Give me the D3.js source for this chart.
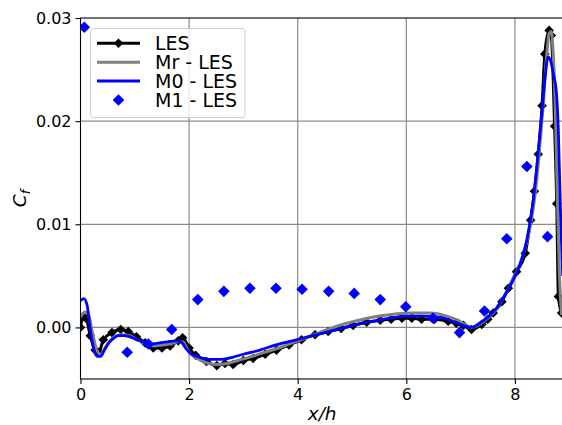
<!DOCTYPE html>
<html><head><meta charset="utf-8">
<script src="https://cdn.jsdelivr.net/npm/d3@7"></script>
<style>body{margin:0;background:#fff}svg{display:block}text{font-family:"DejaVu Sans",sans-serif}</style>
</head><body>
<svg id="c" width="562" height="425"></svg>
<script>
// ---- data ----
const lesX = [0,0.04,0.1,0.18,0.27,0.34,0.42,0.58,0.74,0.88,1.03,1.19,1.34,1.5,1.65,1.8,1.88,2.0,2.12,2.32,2.51,2.66,2.81,3.0,3.18,3.4,3.61,3.84,4.07,4.32,4.56,4.8,5.02,5.27,5.52,5.72,5.92,6.1,6.28,6.52,6.77,6.92,7.05,7.2,7.39,7.5,7.6,7.76,7.88,8.03,8.19,8.29,8.36,8.43,8.5,8.55,8.63,8.67,8.73,8.77,8.8,8.86];
const lesY = [0.0000,0.0010,0.0009,-0.0008,-0.0022,-0.0024,-0.0012,-0.0005,-0.0002,-0.0004,-0.0009,-0.0015,-0.0020,-0.0020,-0.0018,-0.0013,-0.0010,-0.0020,-0.0027,-0.0033,-0.0037,-0.0035,-0.0036,-0.0032,-0.0030,-0.0026,-0.0022,-0.0017,-0.0012,-0.0007,-0.0004,-0.0001,0.0002,0.0005,0.0007,0.0008,0.0009,0.0009,0.0008,0.0008,0.0006,0.0004,0.0002,-0.0002,0.0003,0.0008,0.0014,0.0025,0.0038,0.0054,0.0072,0.0104,0.0132,0.0168,0.0215,0.0265,0.0288,0.0283,0.0195,0.0120,0.0030,0.0014];

const mrX = [0,0.08,0.15,0.22,0.3,0.37,0.45,0.6,0.75,0.9,1.05,1.2,1.35,1.5,1.65,1.8,1.88,2.0,2.15,2.3,2.5,2.7,2.9,3.1,3.4,3.7,4.0,4.3,4.6,4.9,5.2,5.5,5.8,6.1,6.4,6.6,6.8,6.95,7.1,7.2,7.35,7.5,7.65,7.8,7.95,8.1,8.25,8.35,8.45,8.52,8.58,8.63,8.67,8.7,8.74,8.78,8.82,8.86];
const mrY = [0.0010,0.0015,0.0012,-0.0005,-0.0022,-0.0026,-0.0020,-0.0010,-0.0007,-0.0008,-0.0012,-0.0016,-0.0018,-0.0017,-0.0016,-0.0014,-0.0014,-0.0024,-0.0030,-0.0034,-0.0036,-0.0035,-0.0032,-0.0029,-0.0024,-0.0019,-0.0013,-0.0007,-0.0001,0.0004,0.0008,0.0011,0.0013,0.0014,0.0014,0.0013,0.0010,0.0007,0.0002,0.0000,0.0003,0.0009,0.0017,0.0030,0.0045,0.0063,0.0090,0.0120,0.0170,0.0215,0.0260,0.0285,0.0287,0.0270,0.0220,0.0130,0.0050,0.0012];

const m0X = [0,0.06,0.12,0.18,0.25,0.31,0.37,0.44,0.52,0.6,0.7,0.8,0.9,1.0,1.1,1.2,1.3,1.45,1.6,1.75,1.85,1.95,2.05,2.2,2.4,2.6,2.8,3.0,3.3,3.6,3.9,4.2,4.5,4.8,5.1,5.4,5.7,6.0,6.3,6.6,6.8,6.95,7.1,7.2,7.35,7.5,7.65,7.8,7.95,8.1,8.22,8.33,8.42,8.5,8.56,8.61,8.66,8.71,8.76,8.8,8.84,8.88];
const m0Y = [0.0026,0.0028,0.0022,-0.0002,-0.0022,-0.0028,-0.0028,-0.0022,-0.0015,-0.0011,-0.0008,-0.0008,-0.0009,-0.0011,-0.0013,-0.0015,-0.0016,-0.0015,-0.0014,-0.0013,-0.0014,-0.0021,-0.0026,-0.0029,-0.0031,-0.0031,-0.0029,-0.0026,-0.0022,-0.0017,-0.0013,-0.0009,-0.0005,-0.0001,0.0003,0.0006,0.0009,0.0011,0.0011,0.0010,0.0007,0.0004,0.0001,0.0000,0.0004,0.0010,0.0018,0.0030,0.0044,0.0062,0.0085,0.0120,0.0165,0.0210,0.0245,0.0262,0.0258,0.0245,0.0230,0.0190,0.0110,0.0050];

const m1X = [0.07,0.86,1.25,1.68,2.16,2.64,3.12,3.6,4.08,4.57,5.04,5.52,5.99,6.49,6.98,7.44,7.85,8.22,8.6];
const m1Y = [0.0291,-0.0024,-0.0016,-0.0002,0.0027,0.0035,0.0038,0.0038,0.0037,0.0035,0.0033,0.0027,0.0020,0.0009,-0.0005,0.0016,0.0086,0.0156,0.0088];

const xTicks = [0,2,4,6,8];
const yTicks = [0,0.01,0.02,0.03];
const yTickLabels = ["0.00","0.01","0.02","0.03"];
const legendLabels = ["LES","Mr - LES","M0 - LES","M1 - LES"];

// ---- layout ----
const L = 80.5, R = 563.8, T = 18, B = 379;
const x = d3.scaleLinear().domain([0, 8.9]).range([L, R]);
const y = d3.scaleLinear().domain([-0.005, 0.03]).range([B, T]);
const svg = d3.select("#c");

svg.append("defs").append("clipPath").attr("id","clip")
  .append("rect").attr("x",L).attr("y",T).attr("width",R-L).attr("height",B-T);

// grid
const grid = svg.append("g").attr("stroke","#8a8a8a").attr("stroke-width",1.2);
xTicks.filter(d=>d>0).forEach(d=>grid.append("line").attr("x1",x(d)).attr("x2",x(d)).attr("y1",T).attr("y2",B));
yTicks.filter(d=>d<0.03).forEach(d=>grid.append("line").attr("y1",y(d)).attr("y2",y(d)).attr("x1",L).attr("x2",R));

const diamond = h => `M0,${-h}L${h},0L0,${h}L${-h},0Z`;
const toPts = (xs, ys) => xs.map((v,i)=>[v, ys[i]]);
const line = d3.line().x(d=>x(d[0])).y(d=>y(d[1])).curve(d3.curveMonotoneX);

const plot = svg.append("g").attr("clip-path","url(#clip)");
const les = toPts(lesX, lesY);
plot.append("path").attr("d", line(les)).attr("fill","none").attr("stroke","#000").attr("stroke-width",3).attr("stroke-linejoin","round");
plot.selectAll(".lm").data(les).enter().append("path").attr("d",diamond(4.8))
  .attr("transform",d=>`translate(${x(d[0])},${y(d[1])})`).attr("fill","#000");
plot.append("path").attr("d", line(toPts(mrX, mrY))).attr("fill","none").attr("stroke","#808080").attr("stroke-width",3).attr("stroke-linejoin","round");
plot.append("path").attr("d", line(toPts(m0X, m0Y))).attr("fill","none").attr("stroke","#0000ff").attr("stroke-width",2.8).attr("stroke-linejoin","round");
plot.selectAll(".m1").data(toPts(m1X, m1Y)).enter().append("path").attr("d",diamond(5.8))
  .attr("transform",d=>`translate(${x(d[0])},${y(d[1])})`).attr("fill","#0000ff");

// axes
const xAxis = d3.axisBottom(x).tickValues(xTicks).tickFormat(d3.format("d")).tickSize(5).tickPadding(4);
const gx = svg.append("g").attr("transform",`translate(0,${B})`).call(xAxis);
const yAxis = d3.axisLeft(y).tickValues(yTicks).tickFormat((d,i)=>yTickLabels[i]).tickSize(5).tickPadding(4);
const gy = svg.append("g").attr("transform",`translate(${L},0)`).call(yAxis);
[gx, gy].forEach(g=>{
  g.selectAll("text").attr("font-size",16).attr("fill","#000").attr("font-family","DejaVu Sans");
  g.selectAll("line").attr("stroke","#000").attr("stroke-width",1.1);
  g.select(".domain").remove();
});
gx.selectAll("text").attr("dy","0.74em");
// spines
svg.append("rect").attr("x",L).attr("y",T).attr("width",R-L).attr("height",B-T)
  .attr("fill","none").attr("stroke","#000").attr("stroke-width",1.1);

// axis labels
svg.append("text").attr("x",(L+R)/2).attr("y",420).attr("text-anchor","middle")
  .attr("font-size",18.5).attr("font-style","italic").text("x/h");
const cl = svg.append("text").attr("transform",`translate(26,${(T+B)/2}) rotate(-90)`).attr("text-anchor","middle")
  .attr("font-size",18.5).attr("font-style","italic");
cl.append("tspan").text("C");
cl.append("tspan").attr("font-size",13).attr("dy",4).text("f");

// legend
const lg = svg.append("g");
lg.append("rect").attr("x",90.5).attr("y",28.5).attr("width",154.5).attr("height",89).attr("rx",3)
  .attr("fill","#fff").attr("fill-opacity",0.8).attr("stroke","#cccccc").attr("stroke-width",1);
const rows = [43.3, 62.3, 81, 100];
const styles = [{c:"#000",w:3},{c:"#808080",w:3},{c:"#0000ff",w:2.8},null];
legendLabels.forEach((lab,i)=>{
  const cy = rows[i];
  if (styles[i]) lg.append("line").attr("x1",97).attr("x2",140).attr("y1",cy).attr("y2",cy)
    .attr("stroke",styles[i].c).attr("stroke-width",styles[i].w);
  if (i===0) lg.append("path").attr("d",diamond(4.8)).attr("transform",`translate(118.5,${cy})`).attr("fill","#000");
  if (i===3) lg.append("path").attr("d",diamond(5.8)).attr("transform",`translate(118.5,${cy})`).attr("fill","#0000ff");
  lg.append("text").attr("x",155).attr("y",cy+6.8).attr("font-size",19).attr("fill","#000").text(lab);
});
</script>
</body></html>
